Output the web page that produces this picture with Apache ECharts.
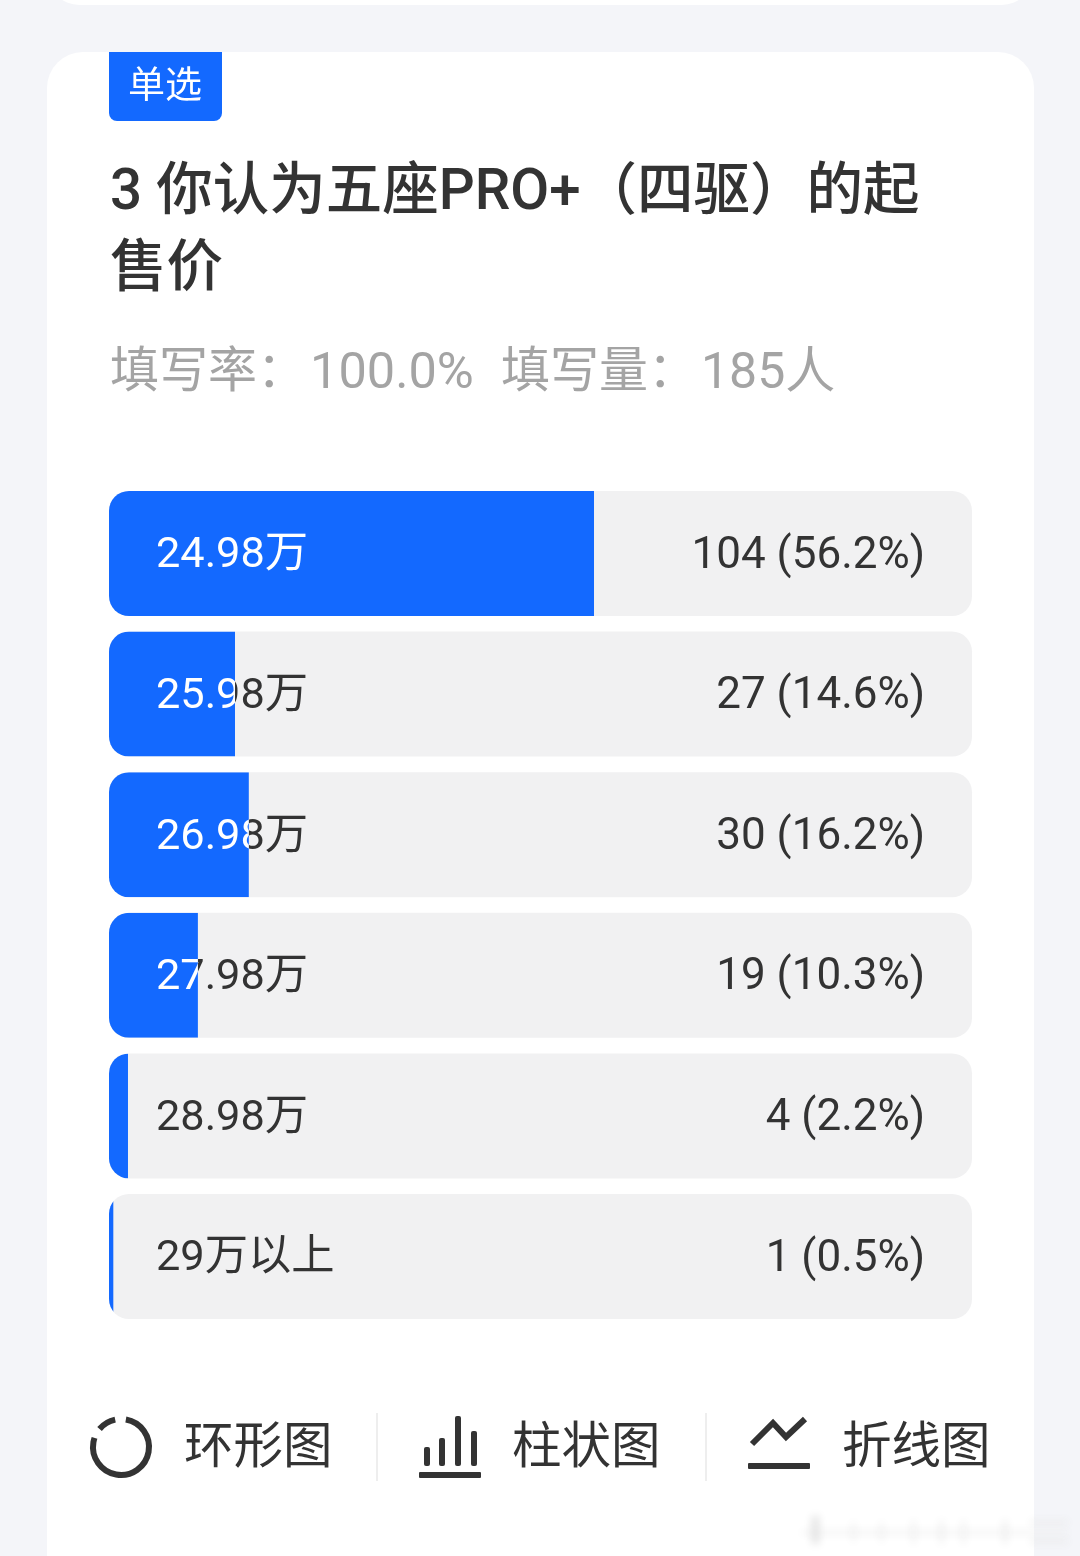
<!DOCTYPE html>
<html>
<head>
<meta charset="utf-8">
<title>起售价</title>
<style>
  html, body { margin: 0; padding: 0; background: #f4f5f9; }
  #main { width: 1080px; height: 1556px; }
</style>
</head>
<body>
<div id="main"></div>
<script src="https://cdn.jsdelivr.net/npm/echarts@6/dist/echarts.min.js"></script>
<script>
var categories = ['24.98万', '25.98万', '26.98万', '27.98万', '28.98万', '29万以上']
var counts = [104, 27, 30, 19, 4, 1]
var percents = [56.2, 14.6, 16.2, 10.3, 2.2, 0.5]

var FONT = 'Roboto, "Noto Sans CJK SC", sans-serif'
var BLUE = '#1369ff'
var TEXT = '#333333'
var GREY = '#a4a4a4'

function txt(x, y, text, size, color, weight) {
  return {
    type: 'text',
    x: x,
    y: y + size * 0.12, // Roboto sits high when mixed with CJK
    style: {
      text: text,
      fill: color,
      fontFamily: FONT,
      fontSize: size,
      fontWeight: weight || 400,
      textVerticalAlign: 'middle',
      textBaseline: 'middle'
    }
  }
}

function box(x, y, w, h, color, r) {
  return {
    type: 'rect',
    shape: { x: x, y: y, width: w, height: h, r: r || 0 },
    style: { fill: color }
  }
}

function arc(start, end) {
  return {
    type: 'arc',
    shape: { cx: 121, cy: 1447, r: 28, startAngle: start * Math.PI / 180, endAngle: end * Math.PI / 180, clockwise: true },
    style: { stroke: TEXT, lineWidth: 6, fill: null }
  }
}

// blurred watermark in the bottom corner, only the shadow lands on the page
function smudge(x, y, w, h, color) {
  return {
    type: 'rect',
    shape: { x: x - 3000, y: y, width: w, height: h },
    style: { fill: color, shadowBlur: 9, shadowColor: color, shadowOffsetX: 3000 }
  }
}

// the page around the chart: cards, tag, headings and the chart type switches
var page = [
  box(47, -60, 987, 65, '#ffffff', 36),
  box(47, 52, 987, 1560, '#ffffff', 36),
  box(109, 52, 113, 69, BLUE, [0, 0, 8, 8]),
  txt(128, 84, '单选', 37, '#ffffff'),
  txt(110, 188, '3 你认为五座PRO+（四驱）的起', 56.5, TEXT, 500),
  txt(110, 265, '售价', 56.5, TEXT, 500),
  txt(110, 369, '填写率：', 49, GREY),
  txt(310, 369, '100.0%', 50.5, GREY),
  txt(501, 369, '填写量：', 49, GREY),
  txt(701, 369, '185人', 50, GREY),

  arc(-80, 199),
  arc(220, 258),
  txt(184, 1445, '环形图', 49.5, TEXT),
  box(376, 1413, 2, 68, '#eeeeee'),

  box(419, 1472, 62, 6, TEXT, 1),
  box(424, 1447, 6, 19, TEXT, 2),
  box(439, 1438, 6, 28, TEXT, 2),
  box(455, 1416, 6, 50, TEXT, 2),
  box(471, 1431, 6, 35, TEXT, 2),
  txt(512, 1445, '柱状图', 49.5, TEXT),
  box(705, 1413, 2, 68, '#eeeeee'),

  {
    type: 'polyline',
    shape: { points: [[752, 1444], [773, 1423], [786, 1437], [805, 1419]] },
    style: { stroke: TEXT, lineWidth: 6, fill: null }
  },
  box(748, 1463, 62, 6, TEXT, 1),
  txt(842, 1445, '折线图', 49.5, TEXT),

  smudge(802, 1531, 266, 3, '#ececec'),
  smudge(1030, 1521, 38, 3, '#e6e6e6'),
  smudge(1030, 1540, 38, 3, '#e6e6e6'),
  smudge(812, 1516, 7, 28, '#e0e0e0'),
  smudge(852, 1522, 3, 20, '#ececec'),
  smudge(880, 1522, 3, 20, '#ececec'),
  smudge(912, 1520, 3, 24, '#eaeaea'),
  smudge(940, 1520, 3, 24, '#e8e8e8'),
  smudge(962, 1520, 3, 24, '#eaeaea'),
  smudge(1003, 1520, 4, 24, '#eaeaea')
]

function renderRow(params, api) {
  var i = api.value(1)
  var start = api.coord([0, i])
  var end = api.coord([100, i])
  var fill = api.coord([api.value(0), i])
  var barH = 125
  var top = start[1] - barH / 2
  var trackW = end[0] - start[0]
  var fillW = fill[0] - start[0]

  var label = {
    text: categories[i],
    x: start[0] + 47,
    y: start[1] + 3,
    fontFamily: FONT,
    fontSize: 43.3,
    textVerticalAlign: 'middle',
    textBaseline: 'middle'
  }

  return {
    type: 'group',
    children: [
      { type: 'rect', shape: { x: start[0], y: top, width: trackW, height: barH, r: 20 }, style: { fill: '#f1f1f2' } },
      {
        type: 'rect',
        shape: { x: start[0], y: top, width: fillW, height: barH },
        style: { fill: BLUE },
        clipPath: { type: 'rect', shape: { x: start[0], y: top, width: trackW, height: barH, r: 20 } }
      },
      // same label twice, white over the blue part and dark past it
      {
        type: 'text',
        style: Object.assign({}, label, { fill: TEXT }),
        clipPath: { type: 'rect', shape: { x: fill[0], y: top, width: trackW - fillW, height: barH } }
      },
      {
        type: 'text',
        style: Object.assign({}, label, { fill: '#ffffff' }),
        clipPath: { type: 'rect', shape: { x: start[0], y: top, width: fillW, height: barH } }
      },
      {
        type: 'text',
        style: {
          text: counts[i] + ' (' + percents[i].toFixed(1) + '%)',
          x: end[0] - 47,
          y: start[1] + 3,
          fill: TEXT,
          fontFamily: FONT,
          fontSize: 44,
          textAlign: 'right',
          textVerticalAlign: 'middle',
          textBaseline: 'middle'
        }
      }
    ]
  }
}

var chart = echarts.init(document.getElementById('main'))
chart.setOption({
  backgroundColor: '#f4f5f9',
  animation: false,
  grid: { left: 109, top: 483.2, width: 863, height: 843.6 },
  xAxis: { type: 'value', min: 0, max: 100, show: false },
  yAxis: { type: 'category', inverse: true, data: categories, show: false },
  graphic: { elements: page.map(function (el) { return Object.assign({ z: -1 }, el) }) },
  series: [{
    type: 'custom',
    renderItem: renderRow,
    encode: { x: 0, y: 1 },
    data: percents.map(function (p, i) { return [p, i] }),
    z: 5
  }]
})
</script>
</body>
</html>
